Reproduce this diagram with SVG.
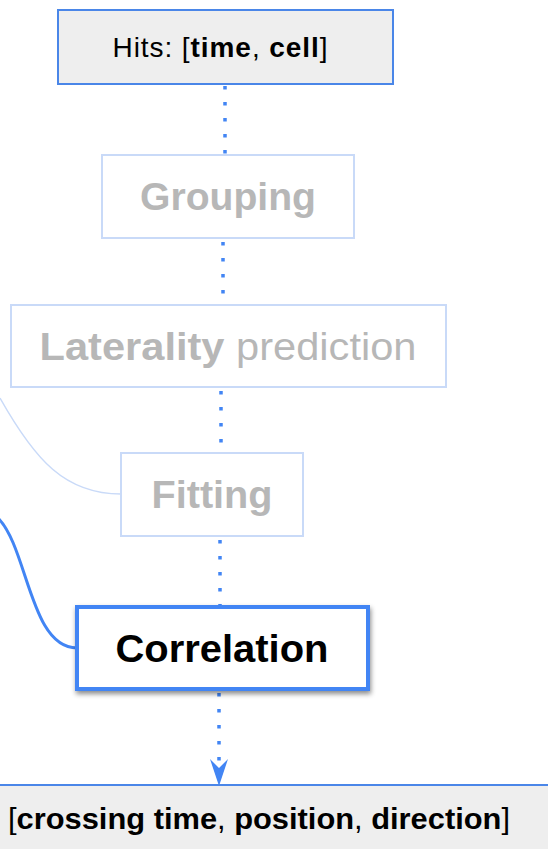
<svg xmlns="http://www.w3.org/2000/svg" width="548" height="849" viewBox="0 0 548 849">
<style>
  text { font-family: "Liberation Sans", Arial, sans-serif; text-anchor: middle; }
  .faded rect { fill: #ffffff; stroke: #c9daf8; stroke-width: 2; }
  .faded text { fill: #b7b7b7; font-size: 38px; font-weight: bold; }
  .light { font-weight: normal; }
  .dot { fill: none; stroke: #4285f4; stroke-width: 3.5; stroke-dasharray: 3.5 12.5; }
  .data rect { fill: #eeeeee; stroke: #4a86e8; stroke-width: 2; }
  .data text { fill: #000000; }
  .b { font-weight: bold; }
</style>
<defs>
  <filter id="shadow" x="-10%" y="-20%" width="125%" height="150%">
    <feDropShadow dx="1" dy="3" stdDeviation="2.5" flood-color="#000" flood-opacity="0.45"/>
  </filter>
</defs>

<g id="connectors">
  <path class="dot" d="M225 86 V155"/>
  <path class="dot" d="M223 242 V305"/>
  <path class="dot" d="M221 391 V453"/>
  <path class="dot" d="M220 540 V607"/>
  <path class="dot" d="M219 693 V762"/>
  <path d="M210 759 L219 786 L228 759 L219 768 Z" fill="#4285f4"/>
  <path d="M0 398 C35 460 65 494 121 494" fill="none" stroke="#c9daf8" stroke-width="1.5"/>
  <path d="M-2 518 C28 548 30 648 77 648" fill="none" stroke="#4285f4" stroke-width="3"/>
</g>

<g id="hits" class="data">
  <rect x="58" y="10" width="335" height="74"/>
  <text x="220" y="57" font-size="28" textLength="215" lengthAdjust="spacing">Hits: [<tspan class="b">time</tspan>, <tspan class="b">cell</tspan>]</text>
</g>

<g id="grouping" class="faded">
  <rect x="102" y="155" width="252" height="83"/>
  <text x="228" y="210" textLength="176" lengthAdjust="spacingAndGlyphs">Grouping</text>
</g>

<g id="laterality" class="faded">
  <rect x="11" y="305" width="435" height="82"/>
  <text x="228" y="360" textLength="377" lengthAdjust="spacingAndGlyphs">Laterality<tspan class="light"> prediction</tspan></text>
</g>

<g id="fitting" class="faded">
  <rect x="121" y="453" width="182" height="83"/>
  <text x="212" y="508" textLength="121" lengthAdjust="spacingAndGlyphs">Fitting</text>
</g>

<g id="correlation">
  <rect x="77" y="607" width="291" height="82" fill="#ffffff" stroke="#4285f4" stroke-width="4" filter="url(#shadow)"/>
  <text x="222" y="662" font-size="38" font-weight="bold" fill="#000000" textLength="213" lengthAdjust="spacingAndGlyphs">Correlation</text>
</g>

<g id="output" class="data">
  <rect x="-3" y="785" width="556" height="70"/>
  <text x="259" y="829" font-size="29" textLength="502" lengthAdjust="spacingAndGlyphs">[<tspan class="b">crossing time</tspan>, <tspan class="b">position</tspan>, <tspan class="b">direction</tspan>]</text>
</g>
</svg>
